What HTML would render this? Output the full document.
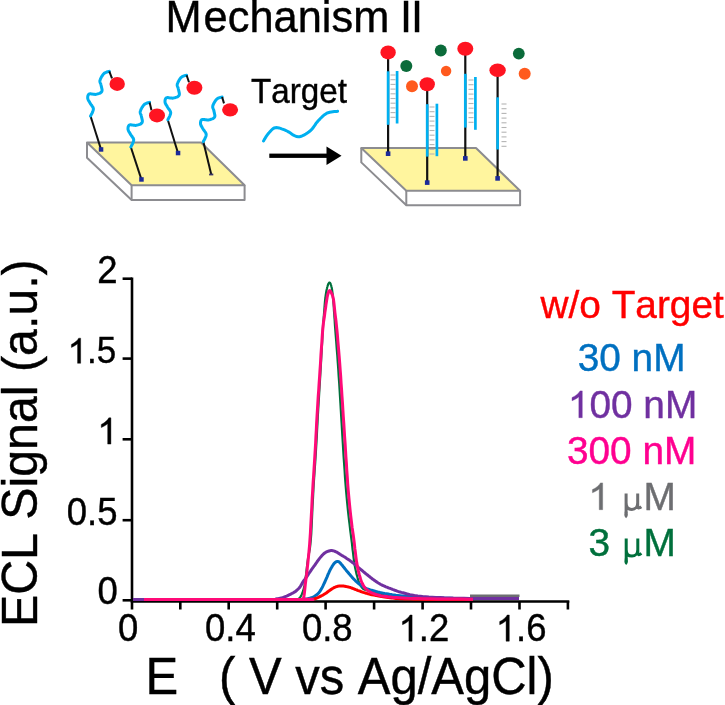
<!DOCTYPE html><html><head><meta charset="utf-8"><style>html,body{margin:0;padding:0;background:#fff;}svg{display:block;will-change:transform;font-kerning:none;font-feature-settings:"kern" 0;}</style></head><body>
<svg width="725" height="705" viewBox="0 0 725 705" font-family='"Liberation Sans", sans-serif'>
<rect width="725" height="705" fill="#fff"/>
<text transform="translate(165.60 32.00) scale(1 1.025)" font-size="43.40" fill="#000" stroke="#000" stroke-width="0.40" xml:space="preserve">M</text>
<text transform="translate(203.60 32.00) scale(1 1.025)" font-size="43.40" fill="#000" stroke="#000" stroke-width="0.40" xml:space="preserve">echanism</text>
<text transform="translate(399.90 32.00) scale(1 1.025)" font-size="43.40" fill="#000" stroke="#000" stroke-width="0.40" xml:space="preserve">I</text>
<text transform="translate(411.00 32.00) scale(1 1.025)" font-size="43.40" fill="#000" stroke="#000" stroke-width="0.40" xml:space="preserve">I</text>
<path d="M87.0 142.5 L87.0 157.8 L131.6 200.0 L244.6 200.0 L244.6 185.3 L201.0 142.5 Z" fill="#fff"/><path d="M87.0 142.5 L201.0 142.5 L244.6 185.3 L131.6 185.3 Z" fill="#fff59e" stroke="#8c8c90" stroke-width="2" stroke-linejoin="round"/><path d="M87.0 142.5 L87.0 157.8 L131.6 200.0 L244.6 200.0 L244.6 185.3" fill="none" stroke="#8c8c90" stroke-width="2" stroke-linejoin="round"/><path d="M131.6 185.3 L131.6 200.0" fill="none" stroke="#8c8c90" stroke-width="2"/>
<path d="M101.0 149.4 L90.5 116.0" stroke="#111" stroke-width="2" fill="none"/><path d="M90.5 116.0 L90.8 115.5 L91.2 114.7 L91.7 113.8 L92.2 112.9 L92.6 111.9 L93.0 110.8 L93.3 109.9 L93.4 109.0 L93.3 108.2 L93.0 107.4 L92.5 106.6 L92.0 105.9 L91.5 105.1 L90.9 104.4 L90.4 103.7 L90.0 103.0 L89.6 102.3 L89.3 101.7 L88.9 101.1 L88.5 100.5 L88.2 99.9 L88.0 99.3 L87.8 98.8 L87.7 98.2 L87.7 97.6 L87.7 97.0 L87.8 96.4 L87.9 95.8 L88.1 95.2 L88.4 94.7 L88.7 94.3 L89.2 94.0 L89.8 93.8 L90.6 93.8 L91.4 93.9 L92.3 94.1 L93.3 94.2 L94.2 94.3 L95.2 94.4 L96.0 94.3 L96.8 94.1 L97.7 93.9 L98.5 93.6 L99.4 93.3 L100.2 93.0 L100.8 92.5 L101.4 92.0 L101.8 91.5 L102.0 90.9 L102.1 90.1 L102.0 89.3 L101.8 88.4 L101.6 87.5 L101.4 86.6 L101.2 85.8 L101.0 85.0 L100.9 84.3 L100.6 83.7 L100.4 83.2 L100.2 82.7 L100.0 82.1 L99.9 81.6 L99.9 81.0 L100.0 80.3 L100.3 79.5 L100.6 78.6 L101.1 77.7 L101.6 76.7 L102.2 75.8 L102.8 74.9 L103.4 74.1 L104.0 73.5 L104.6 73.0 L105.4 72.6 L106.1 72.3 L106.9 72.0 L107.6 71.8 L108.3 71.7 L108.9 71.5 L109.3 71.4" stroke="#00b0f0" stroke-width="3" fill="none" stroke-linecap="round" stroke-linejoin="round"/><path d="M109.3 71.4 L112.0 78.4" stroke="#111" stroke-width="2" fill="none"/><ellipse cx="117.2" cy="83.9" rx="7.7" ry="7.0" fill="#ff1421"/><rect x="98.8" y="147.2" width="4.5" height="4.5" fill="#1c2a99"/>
<path d="M141.4 179.4 L130.8 147.0" stroke="#111" stroke-width="2" fill="none"/><path d="M130.8 147.0 L131.1 146.5 L131.5 145.7 L132.0 144.8 L132.5 143.9 L132.9 142.9 L133.3 141.8 L133.6 140.9 L133.7 140.0 L133.6 139.2 L133.3 138.4 L132.8 137.6 L132.3 136.9 L131.8 136.1 L131.2 135.4 L130.7 134.7 L130.3 134.0 L129.9 133.3 L129.6 132.7 L129.2 132.1 L128.8 131.5 L128.5 130.9 L128.3 130.3 L128.1 129.8 L128.0 129.2 L128.0 128.6 L128.0 128.0 L128.1 127.4 L128.2 126.8 L128.4 126.2 L128.7 125.7 L129.0 125.3 L129.5 125.0 L130.1 124.8 L130.9 124.8 L131.7 124.9 L132.6 125.1 L133.6 125.2 L134.5 125.3 L135.5 125.4 L136.3 125.3 L137.1 125.1 L138.0 124.9 L138.8 124.6 L139.7 124.3 L140.5 124.0 L141.1 123.5 L141.7 123.0 L142.1 122.5 L142.3 121.9 L142.4 121.1 L142.3 120.3 L142.1 119.4 L141.9 118.5 L141.7 117.6 L141.5 116.8 L141.3 116.0 L141.2 115.3 L140.9 114.7 L140.7 114.2 L140.5 113.7 L140.3 113.1 L140.2 112.6 L140.2 112.0 L140.3 111.3 L140.6 110.5 L140.9 109.6 L141.4 108.7 L141.9 107.7 L142.5 106.8 L143.1 105.9 L143.7 105.1 L144.3 104.5 L144.9 104.0 L145.7 103.6 L146.4 103.3 L147.2 103.0 L147.9 102.8 L148.6 102.7 L149.2 102.5 L149.6 102.4" stroke="#00b0f0" stroke-width="3" fill="none" stroke-linecap="round" stroke-linejoin="round"/><path d="M149.6 102.4 L151.5 110.3" stroke="#111" stroke-width="2" fill="none"/><ellipse cx="157.0" cy="115.4" rx="8.0" ry="7.0" fill="#ff1421"/><rect x="139.2" y="177.2" width="4.5" height="4.5" fill="#1c2a99"/>
<path d="M178.0 153.0 L167.8 119.8" stroke="#111" stroke-width="2" fill="none"/><path d="M167.8 119.8 L168.1 119.3 L168.5 118.5 L169.0 117.6 L169.5 116.7 L169.9 115.7 L170.3 114.6 L170.6 113.7 L170.7 112.8 L170.6 112.0 L170.3 111.2 L169.8 110.4 L169.3 109.7 L168.8 108.9 L168.2 108.2 L167.7 107.5 L167.3 106.8 L166.9 106.1 L166.6 105.5 L166.2 104.9 L165.8 104.3 L165.5 103.7 L165.3 103.1 L165.1 102.6 L165.0 102.0 L165.0 101.4 L165.0 100.8 L165.1 100.2 L165.2 99.6 L165.4 99.0 L165.7 98.5 L166.0 98.1 L166.5 97.8 L167.1 97.6 L167.9 97.6 L168.7 97.7 L169.6 97.9 L170.6 98.0 L171.5 98.1 L172.5 98.2 L173.3 98.1 L174.1 97.9 L175.0 97.7 L175.8 97.4 L176.7 97.1 L177.5 96.8 L178.1 96.3 L178.7 95.8 L179.1 95.3 L179.3 94.7 L179.4 93.9 L179.3 93.1 L179.1 92.2 L178.9 91.3 L178.7 90.4 L178.5 89.6 L178.3 88.8 L178.2 88.1 L177.9 87.5 L177.7 87.0 L177.5 86.5 L177.3 85.9 L177.2 85.4 L177.2 84.8 L177.3 84.1 L177.6 83.3 L177.9 82.4 L178.4 81.5 L178.9 80.5 L179.5 79.6 L180.1 78.7 L180.7 77.9 L181.3 77.3 L181.9 76.8 L182.7 76.4 L183.4 76.1 L184.2 75.8 L184.9 75.6 L185.6 75.5 L186.2 75.3 L186.6 75.2" stroke="#00b0f0" stroke-width="3" fill="none" stroke-linecap="round" stroke-linejoin="round"/><path d="M186.6 75.2 L189.0 82.2" stroke="#111" stroke-width="2" fill="none"/><ellipse cx="194.4" cy="87.7" rx="8.0" ry="7.0" fill="#ff1421"/><rect x="175.8" y="150.8" width="4.5" height="4.5" fill="#1c2a99"/>
<path d="M211.2 174.2 L203.3 141.6" stroke="#111" stroke-width="2" fill="none"/><path d="M203.3 141.6 L203.6 141.1 L204.0 140.3 L204.5 139.4 L205.0 138.5 L205.4 137.5 L205.9 136.4 L206.1 135.5 L206.2 134.6 L206.1 133.8 L205.8 133.0 L205.3 132.2 L204.8 131.5 L204.3 130.7 L203.7 130.0 L203.2 129.3 L202.8 128.6 L202.4 127.9 L202.1 127.3 L201.7 126.7 L201.3 126.1 L201.0 125.5 L200.8 124.9 L200.6 124.4 L200.5 123.8 L200.5 123.2 L200.5 122.6 L200.6 122.0 L200.7 121.4 L200.9 120.8 L201.2 120.3 L201.5 119.9 L202.0 119.6 L202.6 119.4 L203.4 119.4 L204.2 119.5 L205.1 119.7 L206.1 119.8 L207.0 119.9 L208.0 120.0 L208.8 119.9 L209.6 119.7 L210.5 119.5 L211.3 119.2 L212.2 118.9 L213.0 118.6 L213.6 118.1 L214.2 117.6 L214.6 117.1 L214.8 116.5 L214.9 115.7 L214.8 114.9 L214.6 114.0 L214.4 113.1 L214.2 112.2 L214.0 111.4 L213.8 110.6 L213.7 109.9 L213.4 109.3 L213.2 108.8 L213.0 108.3 L212.8 107.7 L212.7 107.2 L212.7 106.6 L212.8 105.9 L213.1 105.1 L213.4 104.2 L213.9 103.3 L214.4 102.3 L215.0 101.4 L215.6 100.5 L216.2 99.7 L216.8 99.1 L217.4 98.6 L218.2 98.2 L218.9 97.9 L219.7 97.6 L220.4 97.4 L221.1 97.3 L221.7 97.1 L222.1 97.0" stroke="#00b0f0" stroke-width="3" fill="none" stroke-linecap="round" stroke-linejoin="round"/><path d="M222.1 97.0 L224.0 103.4" stroke="#111" stroke-width="2" fill="none"/><ellipse cx="230.1" cy="109.8" rx="8.0" ry="6.6" fill="#ff1421"/><rect x="209.1" y="173.6" width="4.2" height="1.8" fill="#3a3468"/>
<text transform="translate(251.00 103.10) scale(1 1.040)" font-size="33.20" fill="#000" stroke="#000" stroke-width="0.40" xml:space="preserve">Target</text>
<path d="M263.5 141.0 L263.8 140.5 L264.2 139.7 L264.7 138.9 L265.3 137.9 L265.9 136.9 L266.6 135.9 L267.3 134.9 L268.0 134.0 L268.8 133.1 L269.5 132.2 L270.4 131.2 L271.3 130.2 L272.2 129.4 L273.2 128.6 L274.2 128.0 L275.3 127.7 L276.5 127.6 L277.7 127.7 L279.0 127.9 L280.4 128.3 L281.7 128.8 L283.1 129.3 L284.6 129.9 L286.0 130.5 L287.4 131.2 L288.9 132.1 L290.4 133.1 L292.0 134.2 L293.5 135.2 L295.1 136.0 L296.6 136.6 L298.1 136.8 L299.6 136.7 L301.2 136.3 L302.7 135.7 L304.3 134.9 L305.8 134.0 L307.3 133.0 L308.7 132.0 L310.0 131.0 L311.2 129.9 L312.3 128.7 L313.2 127.5 L314.2 126.1 L315.1 124.8 L316.0 123.4 L317.0 122.2 L318.0 121.0 L319.1 119.9 L320.1 118.8 L321.2 117.7 L322.3 116.6 L323.4 115.6 L324.5 114.7 L325.7 113.9 L326.9 113.2 L328.2 112.7 L329.7 112.3 L331.3 112.0 L332.8 111.8 L334.3 111.6 L335.6 111.5 L336.8 111.4 L337.6 111.3" stroke="#00b0f0" stroke-width="3" fill="none" stroke-linecap="round"/>
<rect x="269.3" y="153.6" width="58.5" height="4.3" fill="#000"/>
<path d="M326.5 146.6 L341.5 155.75 L326.5 164.9 Z" fill="#000"/>
<path d="M361.3 148.0 L361.3 162.4 L406.3 205.3 L520.1 205.3 L520.1 190.8 L476.0 148.0 Z" fill="#fff"/><path d="M361.3 148.0 L476.0 148.0 L520.1 190.8 L406.3 190.8 Z" fill="#fff59e" stroke="#8c8c90" stroke-width="2" stroke-linejoin="round"/><path d="M361.3 148.0 L361.3 162.4 L406.3 205.3 L520.1 205.3 L520.1 190.8" fill="none" stroke="#8c8c90" stroke-width="2" stroke-linejoin="round"/><path d="M406.3 190.8 L406.3 205.3" fill="none" stroke="#8c8c90" stroke-width="2"/>
<path d="M388.1 52.4 L388.1 153.7" stroke="#111" stroke-width="2.2" fill="none"/><path d="M388.1 71.3 L388.1 124.8" stroke="#00b0f0" stroke-width="2.7" fill="none"/><path d="M390.5 75.0 L395.5 75.0" stroke="#b4b4b4" stroke-width="1.1"/><path d="M390.5 79.7 L395.5 79.7" stroke="#b4b4b4" stroke-width="1.1"/><path d="M390.5 84.4 L395.5 84.4" stroke="#b4b4b4" stroke-width="1.1"/><path d="M390.5 89.1 L395.5 89.1" stroke="#b4b4b4" stroke-width="1.1"/><path d="M390.5 93.8 L395.5 93.8" stroke="#b4b4b4" stroke-width="1.1"/><path d="M390.5 98.5 L395.5 98.5" stroke="#b4b4b4" stroke-width="1.1"/><path d="M390.5 103.2 L395.5 103.2" stroke="#b4b4b4" stroke-width="1.1"/><path d="M390.5 107.9 L395.5 107.9" stroke="#b4b4b4" stroke-width="1.1"/><path d="M390.5 112.6 L395.5 112.6" stroke="#b4b4b4" stroke-width="1.1"/><path d="M390.5 117.3 L395.5 117.3" stroke="#b4b4b4" stroke-width="1.1"/><path d="M397.1 71.0 L397.1 123.5" stroke="#00b0f0" stroke-width="2.7" fill="none"/><ellipse cx="388.1" cy="52.4" rx="7.7" ry="7.0" fill="#ff1421"/><rect x="385.8" y="151.4" width="4.6" height="4.6" fill="#1c2a99"/>
<path d="M427.2 84.2 L427.2 182.6" stroke="#111" stroke-width="2.2" fill="none"/><path d="M427.2 104.2 L427.2 156.6" stroke="#00b0f0" stroke-width="2.7" fill="none"/><path d="M429.5 107.0 L434.5 107.0" stroke="#b4b4b4" stroke-width="1.1"/><path d="M429.5 111.7 L434.5 111.7" stroke="#b4b4b4" stroke-width="1.1"/><path d="M429.5 116.4 L434.5 116.4" stroke="#b4b4b4" stroke-width="1.1"/><path d="M429.5 121.1 L434.5 121.1" stroke="#b4b4b4" stroke-width="1.1"/><path d="M429.5 125.8 L434.5 125.8" stroke="#b4b4b4" stroke-width="1.1"/><path d="M429.5 130.5 L434.5 130.5" stroke="#b4b4b4" stroke-width="1.1"/><path d="M429.5 135.2 L434.5 135.2" stroke="#b4b4b4" stroke-width="1.1"/><path d="M429.5 139.9 L434.5 139.9" stroke="#b4b4b4" stroke-width="1.1"/><path d="M429.5 144.6 L434.5 144.6" stroke="#b4b4b4" stroke-width="1.1"/><path d="M429.5 149.3 L434.5 149.3" stroke="#b4b4b4" stroke-width="1.1"/><path d="M429.5 154.0 L434.5 154.0" stroke="#b4b4b4" stroke-width="1.1"/><path d="M436.9 103.7 L436.9 156.2" stroke="#00b0f0" stroke-width="2.7" fill="none"/><ellipse cx="427.2" cy="84.2" rx="7.7" ry="7.0" fill="#ff1421"/><rect x="424.9" y="180.3" width="4.6" height="4.6" fill="#1c2a99"/>
<path d="M465.3 48.8 L465.3 158.4" stroke="#111" stroke-width="2.2" fill="none"/><path d="M465.3 73.8 L465.3 127.6" stroke="#00b0f0" stroke-width="2.7" fill="none"/><path d="M468.5 80.0 L473.5 80.0" stroke="#b4b4b4" stroke-width="1.1"/><path d="M468.5 84.7 L473.5 84.7" stroke="#b4b4b4" stroke-width="1.1"/><path d="M468.5 89.4 L473.5 89.4" stroke="#b4b4b4" stroke-width="1.1"/><path d="M468.5 94.1 L473.5 94.1" stroke="#b4b4b4" stroke-width="1.1"/><path d="M468.5 98.8 L473.5 98.8" stroke="#b4b4b4" stroke-width="1.1"/><path d="M468.5 103.5 L473.5 103.5" stroke="#b4b4b4" stroke-width="1.1"/><path d="M468.5 108.2 L473.5 108.2" stroke="#b4b4b4" stroke-width="1.1"/><path d="M468.5 112.9 L473.5 112.9" stroke="#b4b4b4" stroke-width="1.1"/><path d="M468.5 117.6 L473.5 117.6" stroke="#b4b4b4" stroke-width="1.1"/><path d="M468.5 122.3 L473.5 122.3" stroke="#b4b4b4" stroke-width="1.1"/><path d="M475.4 77.0 L475.4 129.8" stroke="#00b0f0" stroke-width="2.7" fill="none"/><ellipse cx="465.3" cy="48.8" rx="8.0" ry="7.0" fill="#ff1421"/><rect x="463.0" y="156.1" width="4.6" height="4.6" fill="#1c2a99"/>
<path d="M497.6 70.2 L497.6 178.4" stroke="#111" stroke-width="2.2" fill="none"/><path d="M497.6 97.3 L497.6 149.5" stroke="#00b0f0" stroke-width="2.7" fill="none"/><path d="M501.5 104.0 L506.5 104.0" stroke="#b4b4b4" stroke-width="1.1"/><path d="M501.5 108.7 L506.5 108.7" stroke="#b4b4b4" stroke-width="1.1"/><path d="M501.5 113.4 L506.5 113.4" stroke="#b4b4b4" stroke-width="1.1"/><path d="M501.5 118.1 L506.5 118.1" stroke="#b4b4b4" stroke-width="1.1"/><path d="M501.5 122.8 L506.5 122.8" stroke="#b4b4b4" stroke-width="1.1"/><path d="M501.5 127.5 L506.5 127.5" stroke="#b4b4b4" stroke-width="1.1"/><path d="M501.5 132.2 L506.5 132.2" stroke="#b4b4b4" stroke-width="1.1"/><path d="M501.5 136.9 L506.5 136.9" stroke="#b4b4b4" stroke-width="1.1"/><path d="M501.5 141.6 L506.5 141.6" stroke="#b4b4b4" stroke-width="1.1"/><path d="M501.5 146.3 L506.5 146.3" stroke="#b4b4b4" stroke-width="1.1"/><ellipse cx="497.6" cy="70.2" rx="8.2" ry="6.8" fill="#ff1421"/><rect x="495.3" y="176.1" width="4.6" height="4.6" fill="#1c2a99"/>
<circle cx="406.3" cy="66.1" r="6.0" fill="#0b6b3a"/>
<circle cx="440.8" cy="50.6" r="6.0" fill="#0b6b3a"/>
<circle cx="518.8" cy="53.6" r="5.9" fill="#0b6b3a"/>
<circle cx="412.0" cy="86.2" r="6.0" fill="#ff5a1e"/>
<circle cx="446.1" cy="71.0" r="5.2" fill="#ff5a1e"/>
<circle cx="524.7" cy="73.7" r="6.0" fill="#ff5a1e"/>
<path d="M132 277.4 L132 609.5" stroke="#000" stroke-width="2.6"/>
<path d="M130.7 601.5 L569.3 601.5" stroke="#000" stroke-width="2.6"/>
<path d="M122.6 278.7 L132 278.7" stroke="#000" stroke-width="2.6"/>
<path d="M122.6 358.6 L132 358.6" stroke="#000" stroke-width="2.6"/>
<path d="M122.6 439.3 L132 439.3" stroke="#000" stroke-width="2.6"/>
<path d="M122.6 520.2 L132 520.2" stroke="#000" stroke-width="2.6"/>
<path d="M122.6 600.3 L132 600.3" stroke="#000" stroke-width="2.6"/>
<path d="M180.3 601 L180.3 609.5" stroke="#000" stroke-width="2.6"/>
<path d="M228.7 601 L228.7 609.5" stroke="#000" stroke-width="2.6"/>
<path d="M277.2 601 L277.2 609.5" stroke="#000" stroke-width="2.6"/>
<path d="M325.6 601 L325.6 609.5" stroke="#000" stroke-width="2.6"/>
<path d="M374.1 601 L374.1 609.5" stroke="#000" stroke-width="2.6"/>
<path d="M422.6 601 L422.6 609.5" stroke="#000" stroke-width="2.6"/>
<path d="M471.0 601 L471.0 609.5" stroke="#000" stroke-width="2.6"/>
<path d="M519.5 601 L519.5 609.5" stroke="#000" stroke-width="2.6"/>
<path d="M567.9 601 L567.9 609.5" stroke="#000" stroke-width="2.6"/>
<text transform="translate(97.20 283.40) scale(1 1.040)" font-size="36.50" fill="#000" stroke="#000" stroke-width="0.40" xml:space="preserve">2</text>
<path transform="translate(67.60 363.30) scale(0.01709 -0.01709)" d="M763 0L583 0L583 1147C540 1106 483 1064 413 1023C343 982 280 951 223 930L223 1104C324 1152 412 1210 487 1277C562 1344 615 1409 646 1472L763 1472Z" fill="#000" stroke="#000" stroke-width="23.4"/><text transform="translate(87.07 363.30) scale(1 1.040)" font-size="35.00" fill="#000" stroke="#000" stroke-width="0.40" xml:space="preserve">.5</text>
<path transform="translate(97.30 444.10) scale(0.01782 -0.01782)" d="M763 0L583 0L583 1147C540 1106 483 1064 413 1023C343 982 280 951 223 930L223 1104C324 1152 412 1210 487 1277C562 1344 615 1409 646 1472L763 1472Z" fill="#000" stroke="#000" stroke-width="22.4"/>
<text transform="translate(66.80 525.00) scale(1 1.040)" font-size="36.50" fill="#000" stroke="#000" stroke-width="0.40" xml:space="preserve">0.5</text>
<text transform="translate(97.40 604.40) scale(1 1.040)" font-size="36.50" fill="#000" stroke="#000" stroke-width="0.40" xml:space="preserve">0</text>
<text transform="translate(118.00 641.20) scale(1 1.040)" font-size="36.50" fill="#000" stroke="#000" stroke-width="0.40" xml:space="preserve">0</text>
<text transform="translate(205.00 641.20) scale(1 1.040)" font-size="36.50" fill="#000" stroke="#000" stroke-width="0.40" xml:space="preserve">0.4</text>
<text transform="translate(301.90 641.20) scale(1 1.040)" font-size="36.50" fill="#000" stroke="#000" stroke-width="0.40" xml:space="preserve">0.8</text>
<path transform="translate(398.50 641.20) scale(0.01782 -0.01782)" d="M763 0L583 0L583 1147C540 1106 483 1064 413 1023C343 982 280 951 223 930L223 1104C324 1152 412 1210 487 1277C562 1344 615 1409 646 1472L763 1472Z" fill="#000" stroke="#000" stroke-width="22.4"/><text transform="translate(418.80 641.20) scale(1 1.040)" font-size="36.50" fill="#000" stroke="#000" stroke-width="0.40" xml:space="preserve">.2</text>
<path transform="translate(495.70 641.20) scale(0.01782 -0.01782)" d="M763 0L583 0L583 1147C540 1106 483 1064 413 1023C343 982 280 951 223 930L223 1104C324 1152 412 1210 487 1277C562 1344 615 1409 646 1472L763 1472Z" fill="#000" stroke="#000" stroke-width="22.4"/><text transform="translate(516.00 641.20) scale(1 1.040)" font-size="36.50" fill="#000" stroke="#000" stroke-width="0.40" xml:space="preserve">.6</text>
<text transform="translate(145.60 693.80) scale(1 1.040)" font-size="49.00" fill="#000" stroke="#000" stroke-width="0.40" xml:space="preserve">E</text>
<text transform="translate(219.00 693.80) scale(1 1.040)" font-size="49.00" fill="#000" stroke="#000" stroke-width="0.40" xml:space="preserve">( V vs Ag/AgCl)</text>
<text transform="translate(36.8 627.05) rotate(-90) scale(1 1.04)" font-size="48.3" fill="#000" stroke="#000" stroke-width="0.4">ECL Signal (a.u.)</text>
<path d="M470 595.7 L519.5 595.7" stroke="#6d6e71" stroke-width="2.6"/>
<path d="M144.0 599.4 L162.3 599.4 L189.0 599.4 L219.9 599.4 L250.8 599.4 L277.6 599.4 L296.0 599.4 L305.1 599.4 L307.9 599.3 L306.5 599.3 L303.1 599.3 L299.7 599.2 L298.3 599.0 L298.6 598.8 L299.0 598.6 L299.3 598.3 L299.6 598.0 L299.9 597.7 L300.2 597.2 L300.6 596.7 L300.9 596.1 L301.3 595.4 L301.7 594.7 L302.0 593.9 L302.4 593.0 L302.7 592.0 L303.1 591.0 L303.4 589.9 L303.7 588.7 L304.0 587.4 L304.3 586.0 L304.6 584.4 L304.9 582.8 L305.2 581.0 L305.4 579.1 L305.7 577.1 L306.0 575.0 L306.3 572.8 L306.5 570.5 L306.8 568.1 L307.1 565.5 L307.4 562.8 L307.8 560.0 L308.2 557.3 L308.7 554.8 L309.2 552.2 L309.8 549.1 L310.3 545.1 L310.8 540.0 L311.3 533.3 L311.7 525.2 L312.1 516.2 L312.5 507.0 L313.0 498.1 L313.4 490.0 L313.8 482.8 L314.3 475.9 L314.7 469.4 L315.2 463.0 L315.6 456.6 L316.0 450.0 L316.4 443.3 L316.8 436.7 L317.1 430.0 L317.5 423.3 L317.8 416.7 L318.2 410.0 L318.6 403.3 L319.0 396.7 L319.4 390.0 L319.8 383.3 L320.2 376.7 L320.6 370.0 L321.0 363.0 L321.4 355.7 L321.8 348.4 L322.2 341.5 L322.5 335.2 L322.8 330.0 L323.0 326.1 L323.2 323.1 L323.4 320.9 L323.6 319.1 L323.7 317.2 L323.9 315.0 L324.1 312.4 L324.3 309.8 L324.5 307.2 L324.7 304.6 L324.9 302.2 L325.1 300.0 L325.3 298.0 L325.6 296.1 L325.8 294.4 L326.1 292.8 L326.3 291.3 L326.6 290.0 L326.9 288.8 L327.1 287.7 L327.4 286.7 L327.6 285.9 L327.9 285.2 L328.1 284.5 L328.3 283.9 L328.5 283.5 L328.8 283.1 L329.0 282.8 L329.2 282.7 L329.4 282.6 L329.6 282.6 L329.8 282.7 L330.0 282.9 L330.3 283.2 L330.5 283.6 L330.7 284.2 L330.9 284.9 L331.2 285.7 L331.4 286.6 L331.7 287.6 L331.9 288.7 L332.1 290.0 L332.3 291.4 L332.5 292.8 L332.7 294.4 L332.8 296.1 L333.0 298.0 L333.2 300.0 L333.4 302.2 L333.6 304.6 L333.8 307.2 L333.9 309.8 L334.1 312.4 L334.3 315.0 L334.4 317.2 L334.6 319.1 L334.7 320.9 L334.8 323.1 L335.0 326.1 L335.3 330.0 L335.7 335.2 L336.2 341.5 L336.7 348.4 L337.3 355.7 L337.8 363.0 L338.3 370.0 L338.7 376.7 L339.2 383.3 L339.6 390.0 L340.0 396.7 L340.4 403.3 L340.8 410.0 L341.2 416.7 L341.6 423.3 L342.0 430.0 L342.4 436.7 L342.8 443.3 L343.2 450.0 L343.6 456.8 L344.1 463.7 L344.6 470.6 L345.0 477.4 L345.5 483.9 L346.0 490.0 L346.5 495.7 L347.0 501.1 L347.5 506.2 L348.0 511.1 L348.5 515.7 L349.0 520.0 L349.5 523.9 L349.9 527.5 L350.3 530.8 L350.7 533.9 L351.1 537.0 L351.5 540.0 L351.9 543.1 L352.2 546.1 L352.5 549.0 L352.9 551.8 L353.2 554.5 L353.5 557.0 L353.8 559.3 L354.1 561.4 L354.4 563.4 L354.7 565.3 L355.0 567.2 L355.4 569.0 L355.8 570.8 L356.2 572.6 L356.6 574.4 L357.1 576.0 L357.5 577.6 L357.9 579.0 L358.3 580.3 L358.7 581.4 L359.1 582.4 L359.4 583.3 L359.9 584.2 L360.3 585.0 L360.7 585.8 L361.2 586.5 L361.6 587.2 L362.2 587.9 L362.8 588.5 L363.5 589.0 L364.4 589.5 L365.4 589.9 L366.4 590.2 L367.6 590.5 L368.8 590.9 L370.0 591.2 L371.2 591.6 L372.5 592.0 L373.8 592.3 L375.1 592.7 L376.5 593.1 L378.0 593.4 L379.5 593.7 L381.1 594.0 L382.8 594.3 L384.4 594.5 L386.2 594.8 L388.0 595.0 L389.8 595.2 L391.6 595.4 L393.4 595.6 L395.3 595.8 L397.5 596.0 L400.0 596.2 L402.8 596.4 L405.7 596.7 L408.9 596.9 L412.3 597.2 L416.0 597.4 L420.0 597.6 L424.5 597.8 L429.5 598.0 L434.8 598.2 L440.1 598.3 L445.3 598.5 L450.0 598.6 L454.5 598.7 L459.0 598.8 L463.4 598.9 L467.3 598.9 L470.6 599.0 L473.0 599.0" fill="none" stroke="#00703c" stroke-width="2.2" stroke-linejoin="round" stroke-linecap="butt"/>
<path d="M133.0 599.4 L153.1 599.4 L182.3 599.4 L216.2 599.4 L250.2 599.4 L279.7 599.4 L300.0 599.4 L310.1 599.4 L313.3 599.4 L312.1 599.4 L308.6 599.3 L305.1 599.3 L304.0 599.2 L304.9 599.1 L305.8 599.0 L306.8 598.9 L307.8 598.7 L308.8 598.5 L309.7 598.3 L310.6 598.0 L311.4 597.8 L312.2 597.5 L313.1 597.1 L313.9 596.7 L314.7 596.2 L315.5 595.6 L316.4 595.0 L317.2 594.3 L318.0 593.6 L318.9 592.7 L319.7 591.6 L320.5 590.4 L321.3 589.0 L322.2 587.5 L323.0 585.9 L323.8 584.2 L324.6 582.5 L325.4 580.7 L326.3 578.6 L327.2 576.6 L328.0 574.5 L328.9 572.6 L329.6 571.0 L330.3 569.6 L330.9 568.5 L331.5 567.5 L332.0 566.6 L332.5 565.8 L333.0 565.0 L333.5 564.3 L333.9 563.8 L334.3 563.3 L334.7 562.9 L335.1 562.5 L335.5 562.2 L335.9 561.9 L336.2 561.7 L336.5 561.6 L336.9 561.5 L337.2 561.4 L337.5 561.4 L337.8 561.4 L338.1 561.5 L338.5 561.6 L338.8 561.8 L339.1 562.0 L339.5 562.3 L339.9 562.6 L340.3 563.0 L340.7 563.5 L341.1 564.0 L341.5 564.5 L342.0 565.0 L342.4 565.5 L342.9 566.1 L343.3 566.7 L343.8 567.3 L344.4 568.0 L345.0 568.8 L345.7 569.7 L346.5 570.7 L347.4 571.7 L348.3 572.8 L349.1 573.8 L350.0 574.8 L350.8 575.8 L351.7 576.7 L352.5 577.7 L353.3 578.6 L354.2 579.5 L355.0 580.3 L355.8 581.1 L356.7 581.9 L357.5 582.6 L358.3 583.3 L359.2 584.0 L360.0 584.6 L360.8 585.2 L361.7 585.8 L362.5 586.3 L363.3 586.9 L364.2 587.3 L365.0 587.8 L365.8 588.2 L366.7 588.6 L367.5 588.9 L368.3 589.2 L369.2 589.5 L370.0 589.8 L370.8 590.1 L371.7 590.3 L372.5 590.5 L373.3 590.8 L374.2 591.0 L375.0 591.2 L375.8 591.4 L376.5 591.6 L377.2 591.8 L378.0 592.0 L378.9 592.2 L380.0 592.5 L381.4 592.8 L383.0 593.1 L384.7 593.5 L386.5 593.8 L388.3 594.1 L390.0 594.4 L391.6 594.6 L393.0 594.9 L394.4 595.1 L395.9 595.3 L397.8 595.5 L400.0 595.7 L402.6 595.9 L405.6 596.2 L408.8 596.5 L412.2 596.7 L416.0 597.0 L420.0 597.2 L424.5 597.4 L429.5 597.6 L434.8 597.8 L440.1 598.0 L445.3 598.2 L450.0 598.3 L454.5 598.4 L459.0 598.5 L463.4 598.6 L467.3 598.7 L470.6 598.8 L473.0 598.8" fill="none" stroke="#0070c0" stroke-width="3" stroke-linejoin="round" stroke-linecap="butt"/>
<path d="M311.0 599.4 L311.4 599.4 L312.0 599.3 L312.7 599.2 L313.5 599.1 L314.2 599.0 L315.0 598.8 L315.7 598.5 L316.5 598.2 L317.3 597.9 L318.1 597.5 L318.9 597.1 L319.7 596.7 L320.5 596.3 L321.3 595.9 L322.1 595.5 L323.0 595.1 L323.8 594.6 L324.6 594.1 L325.4 593.6 L326.3 593.0 L327.1 592.3 L327.9 591.7 L328.8 591.1 L329.6 590.5 L330.4 589.9 L331.3 589.4 L332.1 588.8 L333.0 588.3 L333.8 587.8 L334.5 587.4 L335.2 587.1 L335.8 586.8 L336.4 586.6 L336.9 586.5 L337.5 586.3 L338.0 586.2 L338.5 586.1 L339.0 586.0 L339.5 586.0 L339.9 585.9 L340.4 585.9 L341.0 585.9 L341.6 585.9 L342.2 586.0 L342.9 586.0 L343.6 586.1 L344.3 586.2 L345.0 586.3 L345.8 586.4 L346.6 586.6 L347.4 586.8 L348.3 586.9 L349.2 587.2 L350.0 587.4 L350.8 587.7 L351.7 588.0 L352.5 588.3 L353.3 588.6 L354.2 589.0 L355.0 589.3 L355.8 589.6 L356.7 589.9 L357.5 590.3 L358.3 590.6 L359.2 590.9 L360.0 591.2 L360.8 591.5 L361.7 591.8 L362.5 592.1 L363.3 592.4 L364.2 592.6 L365.0 592.9 L365.8 593.2 L366.7 593.4 L367.5 593.6 L368.3 593.9 L369.2 594.1 L370.0 594.3 L370.8 594.5 L371.7 594.7 L372.5 594.8 L373.3 595.0 L374.2 595.1 L375.0 595.3 L375.8 595.4 L376.5 595.6 L377.2 595.7 L378.0 595.9 L378.9 596.0 L380.0 596.2 L381.4 596.4 L383.0 596.7 L384.7 596.9 L386.5 597.2 L388.3 597.5 L390.0 597.7 L391.6 597.9 L393.0 598.1 L394.4 598.3 L395.9 598.4 L397.8 598.6 L400.0 598.7 L402.4 598.8 L404.7 598.9 L407.3 599.0 L410.5 599.1 L414.6 599.2 L420.0 599.3 L427.5 599.4 L437.2 599.4 L447.8 599.4 L458.0 599.5 L466.9 599.5 L473.0 599.5" fill="none" stroke="#ff0000" stroke-width="3" stroke-linejoin="round" stroke-linecap="butt"/>
<path d="M133.0 599.4 L149.2 599.4 L172.7 599.4 L200.0 599.4 L227.4 599.4 L251.3 599.4 L268.0 599.4 L276.7 599.4 L280.1 599.3 L280.1 599.3 L278.2 599.2 L276.3 599.1 L276.0 599.0 L277.1 598.8 L278.2 598.7 L279.2 598.5 L280.2 598.3 L281.1 598.0 L282.0 597.8 L282.8 597.6 L283.5 597.3 L284.2 597.1 L284.8 596.8 L285.4 596.5 L286.0 596.3 L286.6 596.1 L287.1 595.9 L287.5 595.7 L288.0 595.5 L288.5 595.2 L289.0 595.0 L289.6 594.7 L290.1 594.5 L290.7 594.2 L291.3 593.8 L291.9 593.5 L292.5 593.2 L293.1 592.9 L293.6 592.6 L294.2 592.2 L294.8 591.9 L295.4 591.5 L296.0 591.0 L296.6 590.5 L297.3 589.8 L298.0 589.2 L298.7 588.5 L299.4 587.8 L300.0 587.0 L300.5 586.2 L301.0 585.4 L301.5 584.5 L302.0 583.6 L302.5 582.7 L303.0 581.8 L303.6 580.9 L304.3 580.0 L305.0 579.1 L305.7 578.1 L306.4 577.3 L307.0 576.4 L307.5 575.6 L308.0 574.9 L308.4 574.2 L308.9 573.5 L309.4 572.7 L310.0 571.8 L310.7 570.8 L311.5 569.6 L312.4 568.4 L313.3 567.2 L314.1 566.0 L315.0 564.8 L315.8 563.6 L316.7 562.4 L317.5 561.2 L318.3 560.1 L319.2 558.9 L320.0 557.9 L320.8 556.9 L321.6 556.0 L322.4 555.1 L323.3 554.2 L324.1 553.5 L325.0 552.8 L326.0 552.2 L327.0 551.7 L328.0 551.3 L329.0 551.0 L330.0 550.7 L331.0 550.6 L331.9 550.6 L332.8 550.7 L333.6 550.9 L334.4 551.2 L335.2 551.5 L336.0 551.8 L336.7 552.1 L337.4 552.5 L338.0 552.9 L338.6 553.4 L339.3 553.8 L340.0 554.3 L340.8 554.8 L341.6 555.3 L342.4 555.7 L343.3 556.3 L344.2 556.8 L345.0 557.3 L345.8 557.8 L346.7 558.4 L347.5 558.9 L348.3 559.4 L349.2 560.0 L350.0 560.6 L350.8 561.2 L351.7 561.8 L352.5 562.5 L353.3 563.1 L354.2 563.8 L355.0 564.5 L355.8 565.2 L356.7 565.9 L357.5 566.6 L358.3 567.4 L359.2 568.1 L360.0 568.8 L360.8 569.5 L361.7 570.2 L362.5 570.9 L363.3 571.6 L364.2 572.3 L365.0 573.0 L365.8 573.7 L366.7 574.4 L367.5 575.0 L368.3 575.7 L369.2 576.3 L370.0 577.0 L370.8 577.7 L371.7 578.3 L372.5 579.0 L373.3 579.6 L374.2 580.2 L375.0 580.8 L375.8 581.4 L376.7 581.9 L377.5 582.5 L378.3 583.0 L379.2 583.5 L380.0 584.0 L380.8 584.5 L381.7 584.9 L382.5 585.3 L383.3 585.7 L384.2 586.0 L385.0 586.4 L385.8 586.8 L386.7 587.1 L387.5 587.4 L388.3 587.8 L389.2 588.1 L390.0 588.4 L390.8 588.7 L391.7 589.0 L392.5 589.4 L393.3 589.7 L394.2 590.0 L395.0 590.3 L395.8 590.6 L396.5 590.8 L397.2 591.1 L398.0 591.4 L398.9 591.7 L400.0 592.0 L401.4 592.4 L403.0 592.8 L404.7 593.3 L406.5 593.8 L408.3 594.2 L410.0 594.6 L411.6 594.9 L413.0 595.2 L414.4 595.5 L415.9 595.7 L417.8 596.0 L420.0 596.2 L422.6 596.5 L425.6 596.7 L428.8 597.0 L432.2 597.2 L436.0 597.4 L440.0 597.6 L444.2 597.8 L448.6 597.9 L453.2 598.1 L458.2 598.2 L463.8 598.3 L470.0 598.4 L477.6 598.5 L486.7 598.5 L496.4 598.5 L505.6 598.6 L513.4 598.6 L519.0 598.6" fill="none" stroke="#7030a0" stroke-width="3" stroke-linejoin="round" stroke-linecap="butt"/>
<path d="M144.0 599.4 L162.9 599.4 L190.4 599.4 L222.3 599.4 L254.2 599.4 L281.8 599.4 L300.8 599.4 L310.1 599.4 L312.9 599.4 L311.4 599.3 L307.8 599.3 L304.1 599.2 L302.6 599.0 L302.8 598.9 L303.0 598.9 L303.2 598.9 L303.4 598.7 L303.6 598.1 L303.8 597.0 L304.1 595.3 L304.4 593.0 L304.7 590.3 L305.0 587.5 L305.3 584.7 L305.6 582.0 L305.9 579.6 L306.2 577.4 L306.5 575.2 L306.7 572.9 L307.1 570.2 L307.4 567.0 L307.8 563.5 L308.2 559.7 L308.6 555.7 L309.0 551.1 L309.5 546.0 L309.9 540.0 L310.4 532.9 L310.8 524.7 L311.3 515.8 L311.8 506.8 L312.2 498.0 L312.7 490.0 L313.1 482.8 L313.6 475.9 L314.0 469.4 L314.4 463.0 L314.8 456.6 L315.2 450.0 L315.6 443.3 L315.9 436.7 L316.3 430.0 L316.6 423.3 L317.0 416.7 L317.4 410.0 L317.8 403.3 L318.2 396.7 L318.7 390.0 L319.1 383.3 L319.6 376.7 L320.0 370.0 L320.5 363.0 L320.9 355.7 L321.4 348.4 L321.9 341.5 L322.3 335.2 L322.7 330.0 L323.1 326.1 L323.4 323.1 L323.7 320.9 L324.0 319.1 L324.3 317.2 L324.6 315.0 L324.9 312.4 L325.3 309.7 L325.7 307.0 L326.0 304.4 L326.4 302.0 L326.7 300.0 L327.0 298.3 L327.2 296.9 L327.5 295.7 L327.7 294.7 L328.0 293.8 L328.2 293.0 L328.4 292.3 L328.7 291.7 L328.9 291.2 L329.1 290.9 L329.4 290.7 L329.6 290.6 L329.8 290.6 L330.1 290.7 L330.4 291.0 L330.6 291.4 L330.9 291.9 L331.2 292.5 L331.5 293.2 L331.9 294.0 L332.3 294.9 L332.7 296.0 L333.0 297.3 L333.4 299.0 L333.7 301.1 L334.0 303.7 L334.3 306.5 L334.6 309.4 L334.9 312.3 L335.2 315.0 L335.5 317.3 L335.7 319.1 L336.0 321.0 L336.2 323.2 L336.5 326.1 L336.9 330.0 L337.4 335.2 L337.9 341.5 L338.5 348.4 L339.1 355.7 L339.7 363.0 L340.2 370.0 L340.7 376.7 L341.1 383.3 L341.6 390.0 L342.0 396.7 L342.5 403.3 L342.9 410.0 L343.3 416.7 L343.8 423.3 L344.2 430.0 L344.6 436.7 L345.1 443.3 L345.5 450.0 L345.9 456.8 L346.4 463.7 L346.8 470.6 L347.3 477.4 L347.7 483.9 L348.2 490.0 L348.7 495.7 L349.2 501.1 L349.7 506.2 L350.2 511.1 L350.7 515.7 L351.2 520.0 L351.7 523.9 L352.1 527.5 L352.6 530.8 L353.1 533.9 L353.5 537.0 L353.9 540.0 L354.3 543.1 L354.6 546.1 L354.9 549.0 L355.3 551.8 L355.6 554.5 L355.9 557.0 L356.2 559.3 L356.5 561.4 L356.9 563.4 L357.2 565.3 L357.5 567.2 L357.9 569.0 L358.3 570.8 L358.8 572.6 L359.2 574.4 L359.7 576.0 L360.2 577.6 L360.6 579.0 L361.0 580.2 L361.4 581.3 L361.8 582.3 L362.2 583.2 L362.6 584.1 L363.1 585.0 L363.6 585.9 L364.1 586.7 L364.6 587.5 L365.2 588.3 L365.9 589.0 L366.8 589.8 L367.9 590.6 L369.0 591.3 L370.4 592.1 L371.8 592.8 L373.2 593.4 L374.7 594.0 L376.2 594.5 L377.7 594.9 L379.2 595.3 L380.9 595.7 L382.6 596.0 L384.6 596.3 L386.6 596.6 L388.6 596.9 L390.8 597.1 L393.2 597.4 L396.1 597.6 L399.5 597.8 L403.5 598.0 L408.0 598.2 L413.0 598.4 L418.3 598.5 L424.0 598.7 L430.0 598.8 L436.9 598.9 L445.0 599.0 L453.4 599.1 L461.4 599.1 L468.2 599.2 L473.0 599.2" fill="none" stroke="#ff0a78" stroke-width="3" stroke-linejoin="round" stroke-linecap="butt"/>
<text transform="translate(540.50 317.50) scale(1 1.000)" font-size="38.80" fill="#ff0000" stroke="#ff0000" stroke-width="0.40" xml:space="preserve">w/o Target</text>
<text transform="translate(577.68 370.60) scale(1 1.000)" font-size="38.80" fill="#0070c0" stroke="#0070c0" stroke-width="0.40" xml:space="preserve">30 nM</text>
<path transform="translate(567.80 417.70) scale(0.01895 -0.01822)" d="M763 0L583 0L583 1147C540 1106 483 1064 413 1023C343 982 280 951 223 930L223 1104C324 1152 412 1210 487 1277C562 1344 615 1409 646 1472L763 1472Z" fill="#7030a0" stroke="#7030a0" stroke-width="21.1"/><text transform="translate(589.38 417.70) scale(1 1.000)" font-size="38.80" fill="#7030a0" stroke="#7030a0" stroke-width="0.40" xml:space="preserve">00 nM</text>
<text transform="translate(566.94 464.00) scale(1 1.000)" font-size="38.80" fill="#ff0090" stroke="#ff0090" stroke-width="0.40" xml:space="preserve">300 nM</text>
<path transform="translate(588.20 509.70) scale(0.01895 -0.01822)" d="M763 0L583 0L583 1147C540 1106 483 1064 413 1023C343 982 280 951 223 930L223 1104C324 1152 412 1210 487 1277C562 1344 615 1409 646 1472L763 1472Z" fill="#6d6e71" stroke="#6d6e71" stroke-width="21.1"/>
<text transform="translate(588.50 556.40) scale(1 1.000)" font-size="38.80" fill="#00703c" stroke="#00703c" stroke-width="0.40" xml:space="preserve">3</text>
<path d="M626.1 493.5 L626.1 512.7 M626.1 502.7 C626.1 508.2 628.6 509.4 631.9 509.4 C635.1 509.4 637.7 506.7 637.7 502.7 M637.7 493.5 L637.7 506.2 Q637.7 509.5 641.3 506.7" stroke="#6d6e71" stroke-width="3" fill="none"/><path d="M624.7 511.7 C624.5 513.7 623.5 515.7 626.1 518.2 C628.7 515.7 627.7 513.7 627.5 511.7 Z" fill="#6d6e71"/>
<text transform="translate(643.50 509.70) scale(1 1.000)" font-size="38.80" fill="#6d6e71" stroke="#6d6e71" stroke-width="0.40" xml:space="preserve">M</text>
<path d="M626.2 538.4 L626.2 559.4 M626.2 549.4 C626.2 554.9 628.7 556.1 632.0 556.1 C635.2 556.1 637.8 553.4 637.8 549.4 M637.8 538.4 L637.8 552.9 Q637.8 556.2 641.4 553.4" stroke="#00703c" stroke-width="3" fill="none"/><path d="M624.8 558.4 C624.6 560.4 623.6 562.4 626.2 564.9 C628.8 562.4 627.8 560.4 627.6 558.4 Z" fill="#00703c"/>
<text transform="translate(643.50 556.40) scale(1 1.000)" font-size="38.80" fill="#00703c" stroke="#00703c" stroke-width="0.40" xml:space="preserve">M</text>
</svg></body></html>
